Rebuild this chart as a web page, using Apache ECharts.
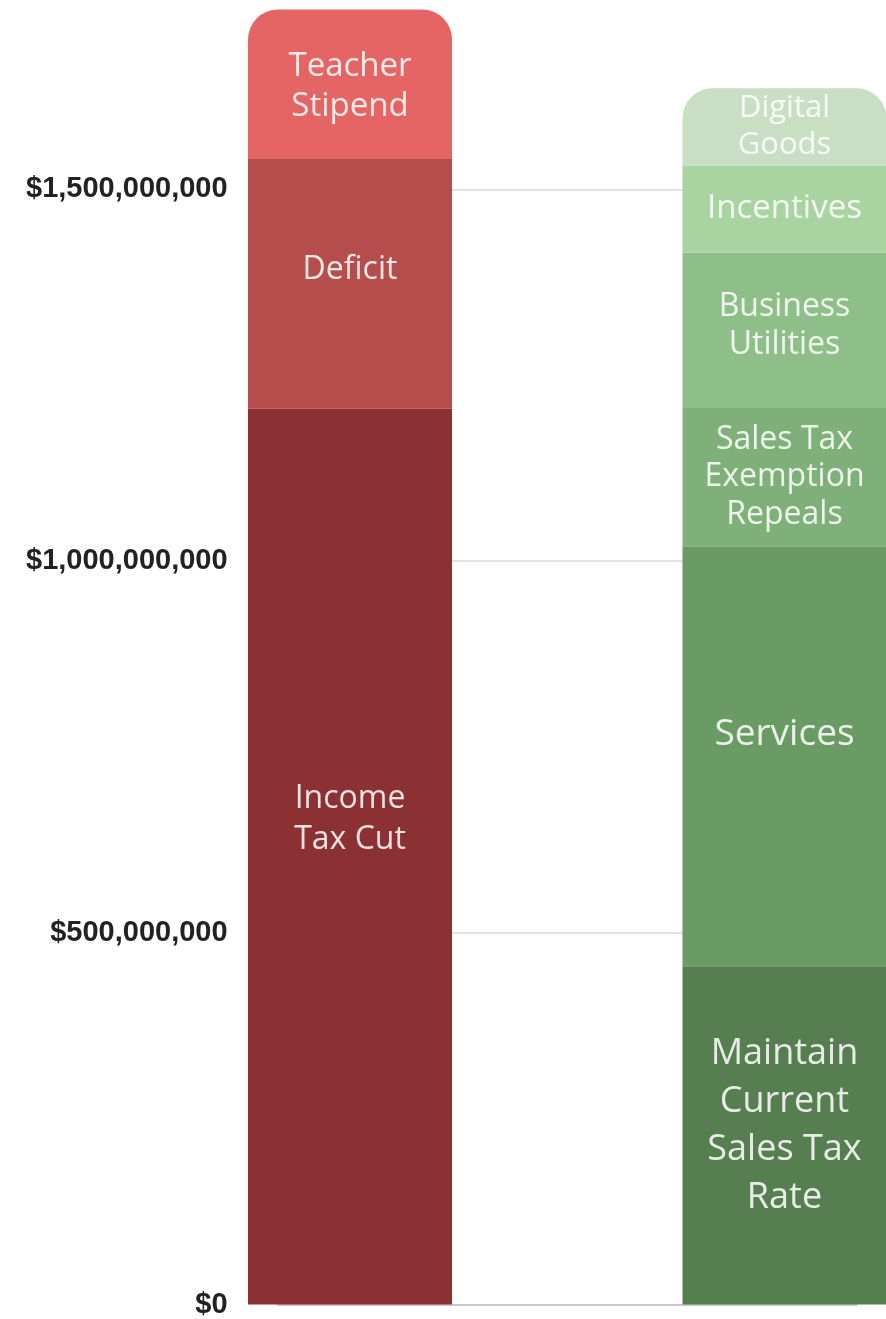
<!DOCTYPE html>
<html>
<head>
<meta charset="utf-8">
<script src="https://cdn.jsdelivr.net/npm/echarts@6/dist/echarts.min.js"></script>
<style>
html,body{margin:0;padding:0;background:#fff;}
#chart{width:886px;height:1319px;}
</style>
</head>
<body>
<div id="chart"></div>
<script>
// Values in millions of dollars
const categories = ['Uses', '', ' ', 'Sources'];
const leftNames = ['Income\nTax Cut', 'Deficit', 'Teacher\nStipend'];
const leftValues = [1205, 336, 201];
const rightNames = ['Maintain\nCurrent\nSales Tax\nRate', 'Services', 'Sales Tax\nExemption\nRepeals', 'Business\nUtilities', 'Incentives', 'Digital\nGoods'];
const rightValues = [455, 565, 186, 209, 117, 104];
const yTicks = [0, 500, 1000, 1500];

const leftColors = ['#8b3033', '#b44d4c', '#e56565'];
const rightColors = ['#567e50', '#6a9b65', '#80b079', '#8fbf88', '#a9d3a1', '#c8dfc3'];
const leftStyle = [
  {fontSize: 32, lineHeight: 41, offset: [0, -37]},
  {fontSize: 32, lineHeight: 40, offset: [0, -14]},
  {fontSize: 33, lineHeight: 40, offset: [0, 2]}
];
const rightStyle = [
  {fontSize: 36, lineHeight: 48, offset: [0, -10]},
  {fontSize: 37, lineHeight: 42, offset: [0, -22]},
  {fontSize: 32, lineHeight: 37.5, offset: [0, 0]},
  {fontSize: 32, lineHeight: 38, offset: [0, -4]},
  {fontSize: 33, lineHeight: 38, offset: [0, 0]},
  {fontSize: 31, lineHeight: 37, offset: [0, 0]}
];

function mkSeries(name, value, catIndex, color, st, isTop) {
  const data = categories.map((c, i) => i === catIndex ? value : '-');
  return {
    name: name,
    type: 'bar',
    stack: 'total',
    barWidth: 204,
    clip: false,
    data: data,
    itemStyle: {color: color, borderRadius: isTop ? [30, 30, 0, 0] : 0},
    label: {
      show: true,
      position: 'inside',
      formatter: name,
      color: 'rgba(255,255,255,0.86)',
      fontFamily: 'Open Sans',
      fontWeight: 400,
      fontSize: st.fontSize,
      lineHeight: st.lineHeight,
      offset: st.offset,
      align: 'center'
    },
    emphasis: {disabled: true}
  };
}

const series = [];
leftNames.forEach((n, i) => series.push(mkSeries(n, leftValues[i], 0, leftColors[i], leftStyle[i], i === leftNames.length - 1)));
rightNames.forEach((n, i) => series.push(mkSeries(n, rightValues[i], 3, rightColors[i], rightStyle[i], i === rightNames.length - 1)));

const chart = echarts.init(document.getElementById('chart'));
chart.setOption({
  animation: false,
  backgroundColor: '#ffffff',
  grid: {left: 277.6, width: 579.3, top: 3.5, height: 1301.5, containLabel: false},
  xAxis: {
    type: 'category',
    data: categories,
    axisLabel: {show: false},
    axisTick: {show: false},
    axisLine: {show: true, lineStyle: {color: '#c9c9c9', width: 2}}
  },
  yAxis: {
    type: 'value',
    min: 0,
    max: 1750,
    interval: 500,
    axisLine: {show: false},
    axisTick: {show: false},
    splitLine: {show: true, lineStyle: {color: ['#dadada', '#dadada', '#dadada', '#dadada', 'rgba(0,0,0,0)'], width: 1.5}},
    axisLabel: {
      margin: 50,
      color: '#222222',
      fontFamily: 'Liberation Sans',
      fontWeight: 'bold',
      fontSize: 29,
      formatter: function (v) {
        if (yTicks.indexOf(v) < 0) return '';
        return '$' + (v * 1e6).toLocaleString('en-US');
      }
    }
  },
  series: series
});
</script>
</body>
</html>
